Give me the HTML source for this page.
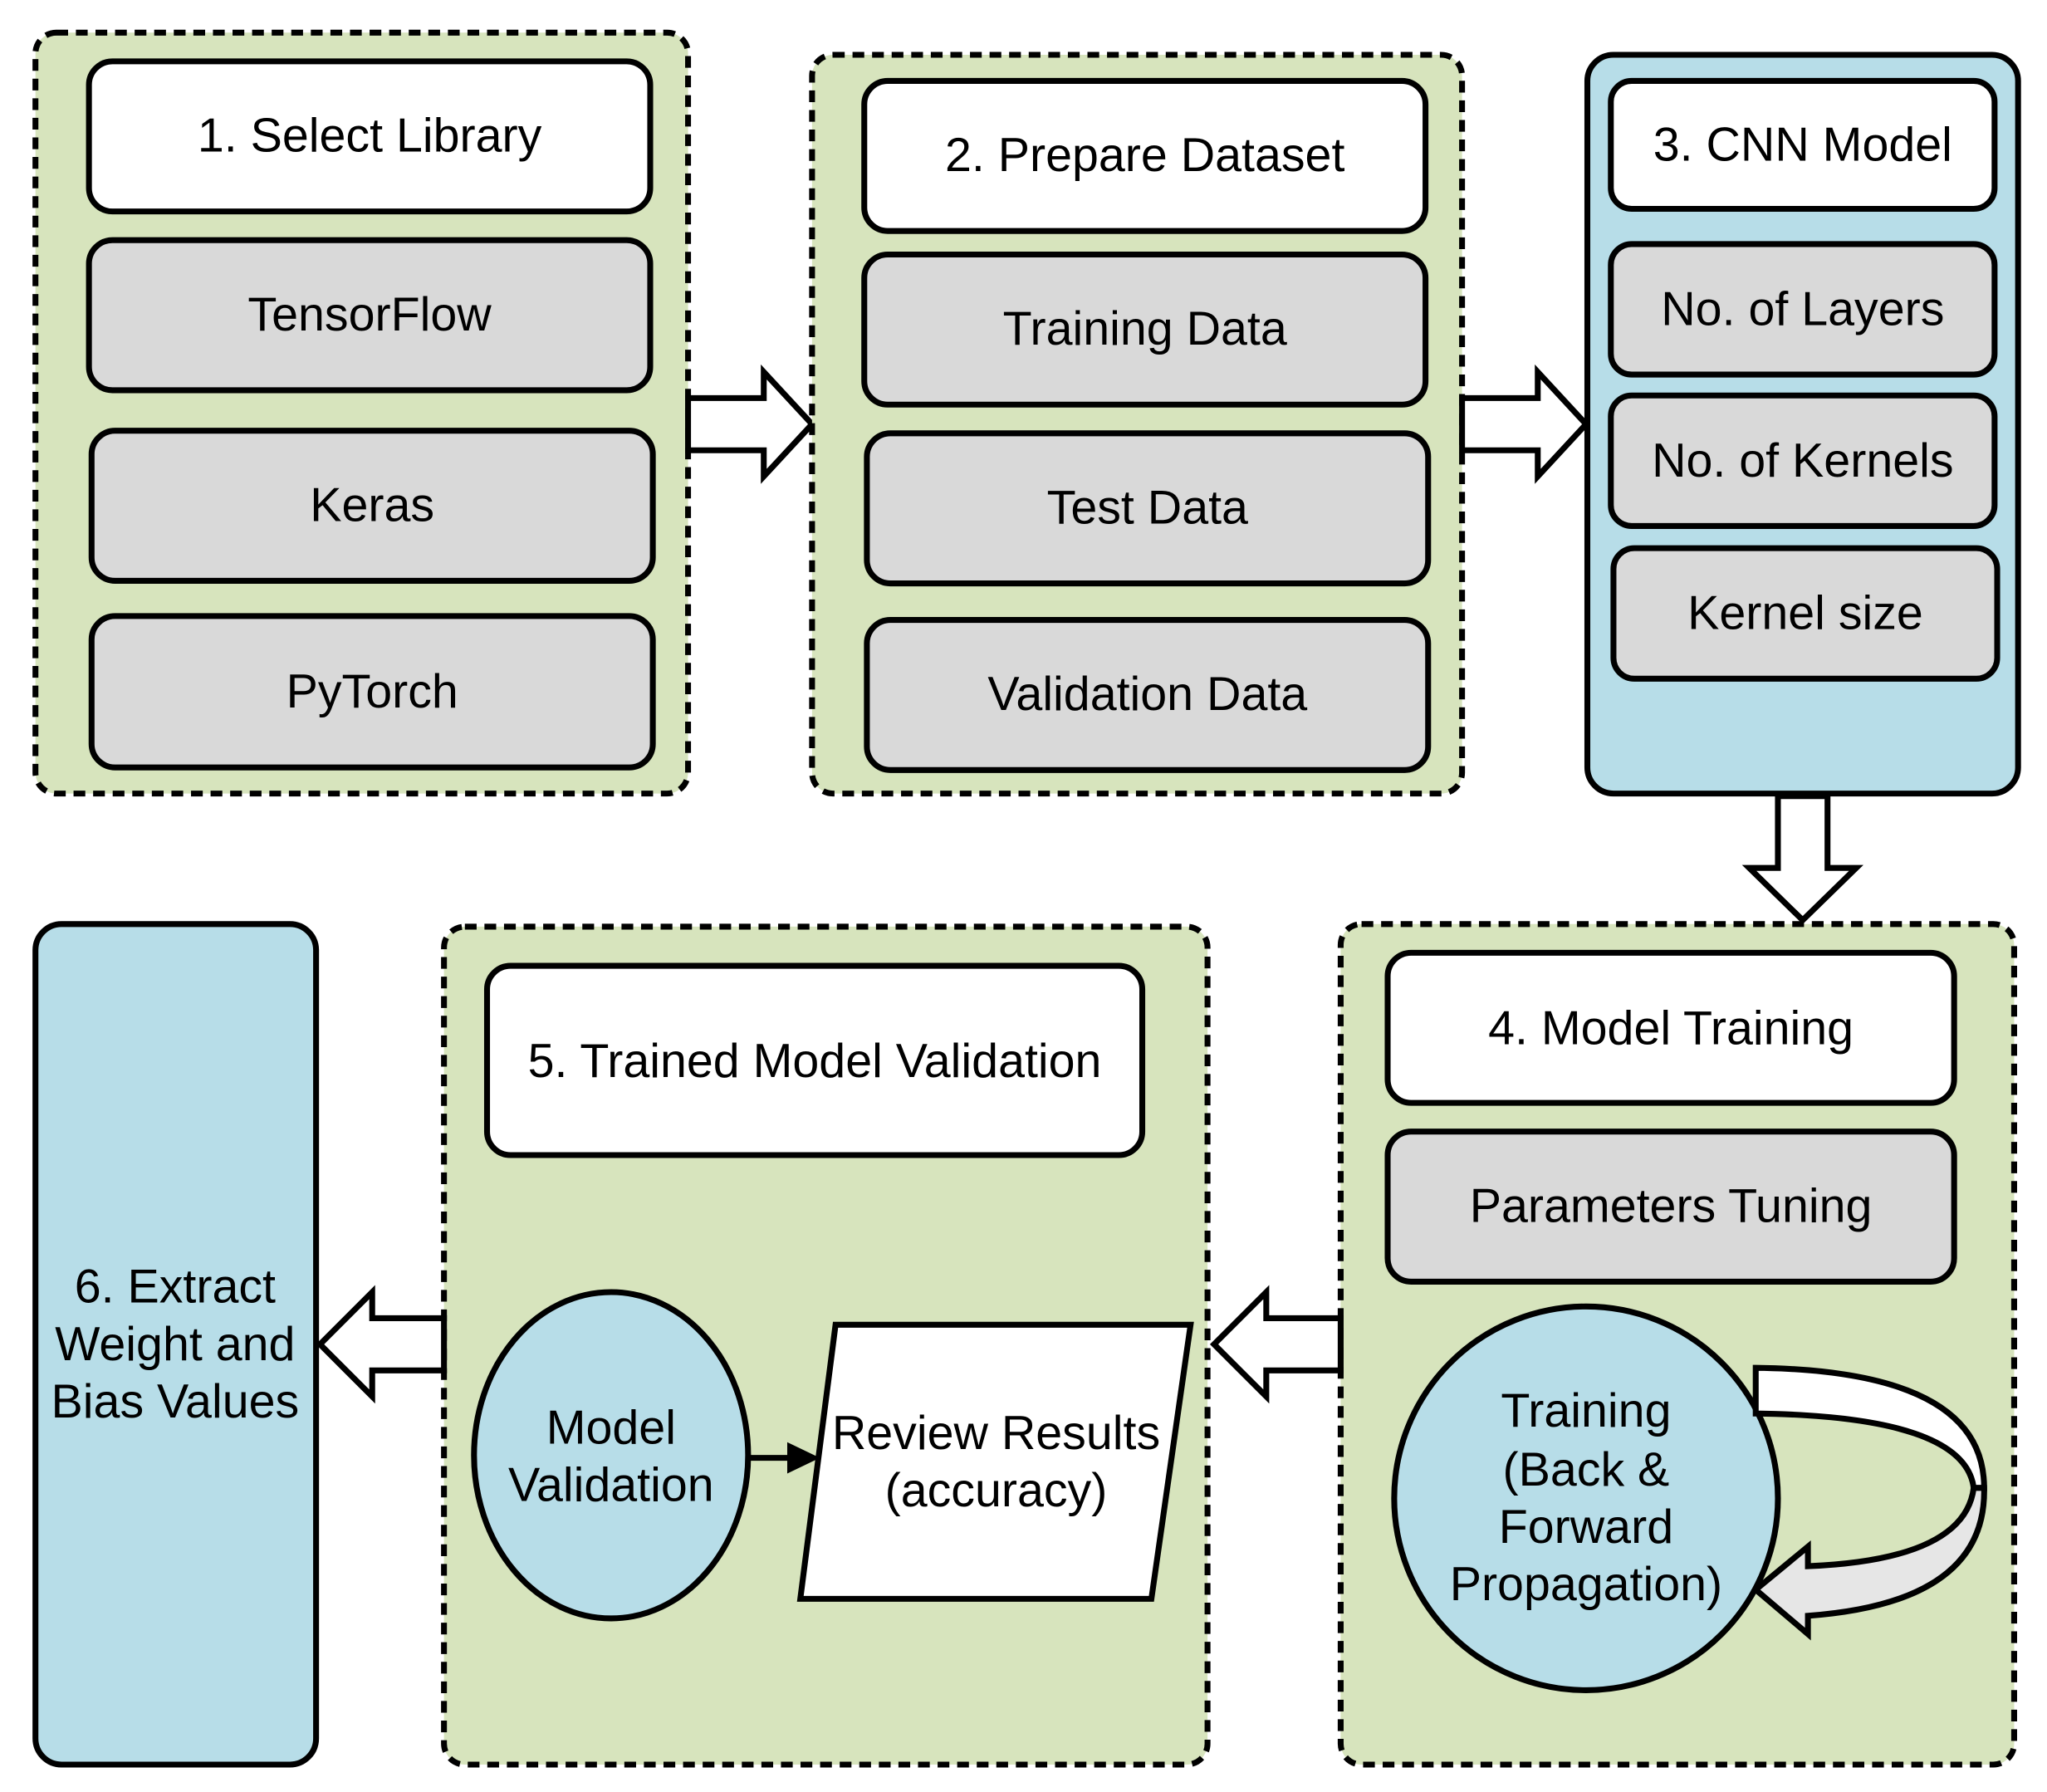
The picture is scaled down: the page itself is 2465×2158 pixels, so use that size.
<!DOCTYPE html>
<html><head><meta charset="utf-8"><style>
html,body{margin:0;padding:0;background:#fff;}
svg{display:block;}
text{font-family:"Liberation Sans",Arial,sans-serif;font-size:36.5px;fill:#000;text-anchor:middle;dominant-baseline:central;}
</style></head><body>
<svg width="2465" height="2158" viewBox="0 0 1568 1373" xmlns="http://www.w3.org/2000/svg">
<g stroke="#000" stroke-width="4.5">
<rect x="27" y="25" width="500" height="583" rx="16" fill="#d7e4bd" stroke-dasharray="9,6"/>
<rect x="68" y="47" width="430" height="115" rx="18" fill="#fff"/>
<rect x="68" y="184" width="430" height="115" rx="18" fill="#d9d9d9"/>
<rect x="70" y="330" width="430" height="115" rx="18" fill="#d9d9d9"/>
<rect x="70" y="472" width="430" height="116" rx="18" fill="#d9d9d9"/>
<path d="M527 305 H585 V285 L622 325 L585 365 V345 H527 Z" fill="#fff"/>
<rect x="622" y="42" width="498" height="566" rx="16" fill="#d7e4bd" stroke-dasharray="9,6"/>
<rect x="662" y="62" width="430" height="115" rx="18" fill="#fff"/>
<rect x="662" y="195" width="430" height="115" rx="18" fill="#d9d9d9"/>
<rect x="664" y="332" width="430" height="115" rx="18" fill="#d9d9d9"/>
<rect x="664" y="475" width="430" height="115" rx="18" fill="#d9d9d9"/>
<path d="M1120 305 H1178 V285 L1215 325 L1178 365 V345 H1120 Z" fill="#fff"/>
<rect x="1216" y="42" width="330" height="566" rx="20" fill="#b7dde8"/>
<rect x="1234" y="62" width="294" height="98" rx="16" fill="#fff"/>
<rect x="1234" y="187" width="294" height="100" rx="16" fill="#d9d9d9"/>
<rect x="1234" y="303" width="294" height="100" rx="16" fill="#d9d9d9"/>
<rect x="1236" y="420" width="294" height="100" rx="16" fill="#d9d9d9"/>
<path d="M1362 610 V665 H1340 L1381 705 L1422 665 H1400 V610 Z" fill="#fff"/>
<rect x="1027" y="708" width="516" height="644" rx="16" fill="#d7e4bd" stroke-dasharray="9,6"/>
<rect x="1063" y="730" width="434" height="115" rx="18" fill="#fff"/>
<rect x="1063" y="867" width="434" height="115" rx="18" fill="#d9d9d9"/>
<circle cx="1215" cy="1148" r="147" fill="#b7dde8"/>
<path d="M1345 1048 Q1520 1050 1520 1140 L1512 1140 Q1505 1085 1345 1083 Z" fill="#fff"/>
<path d="M1520 1140 Q1522 1228 1385 1238 V1252 L1345 1218 L1385 1185 V1200 Q1505 1195 1512 1140 Z" fill="#e6e6e6"/>
<path d="M1027 1010 H970 V990 L930 1030 L970 1070 V1050 H1027 Z" fill="#fff"/>
<rect x="340" y="710" width="585" height="642" rx="16" fill="#d7e4bd" stroke-dasharray="9,6"/>
<rect x="373" y="740" width="502" height="145" rx="18" fill="#fff"/>
<ellipse cx="468" cy="1115" rx="105" ry="125" fill="#b7dde8"/>
<path d="M640 1015 H912 L882 1225 H613 Z" fill="#fff"/>
<line x1="573" y1="1117" x2="605" y2="1117"/>
<path d="M340 1010 H285 V990 L245 1030 L285 1070 V1050 H340 Z" fill="#fff"/>
<rect x="27" y="708" width="215" height="644" rx="20" fill="#b7dde8"/>
</g>
<path d="M603 1105 L628 1117 L603 1129 Z" fill="#000"/>
<text x="283" y="104">1. Select Library</text>
<text x="283" y="241">TensorFlow</text>
<text x="285" y="387">Keras</text>
<text x="285" y="530">PyTorch</text>
<text x="877" y="119">2. Prepare Dataset</text>
<text x="877" y="252">Training Data</text>
<text x="879" y="389">Test Data</text>
<text x="879" y="532">Validation Data</text>
<text x="1381" y="111">3. CNN Model</text>
<text x="1381" y="237">No. of Layers</text>
<text x="1381" y="353">No. of Kernels</text>
<text x="1383" y="470">Kernel size</text>
<text x="1280" y="788">4. Model Training</text>
<text x="1280" y="924">Parameters Tuning</text>
<text x="1215" y="1081">Training</text>
<text x="1215" y="1126">(Back &amp;</text>
<text x="1215" y="1170">Forward</text>
<text x="1215" y="1214">Propagation)</text>
<text x="624" y="813">5. Trained Model Validation</text>
<text x="468" y="1094">Model</text>
<text x="468" y="1138">Validation</text>
<text x="763" y="1098">Review Results</text>
<text x="763" y="1142">(accuracy)</text>
<text x="134" y="986">6. Extract</text>
<text x="134" y="1030">Weight and</text>
<text x="134" y="1074">Bias Values</text>
</svg>
</body></html>
